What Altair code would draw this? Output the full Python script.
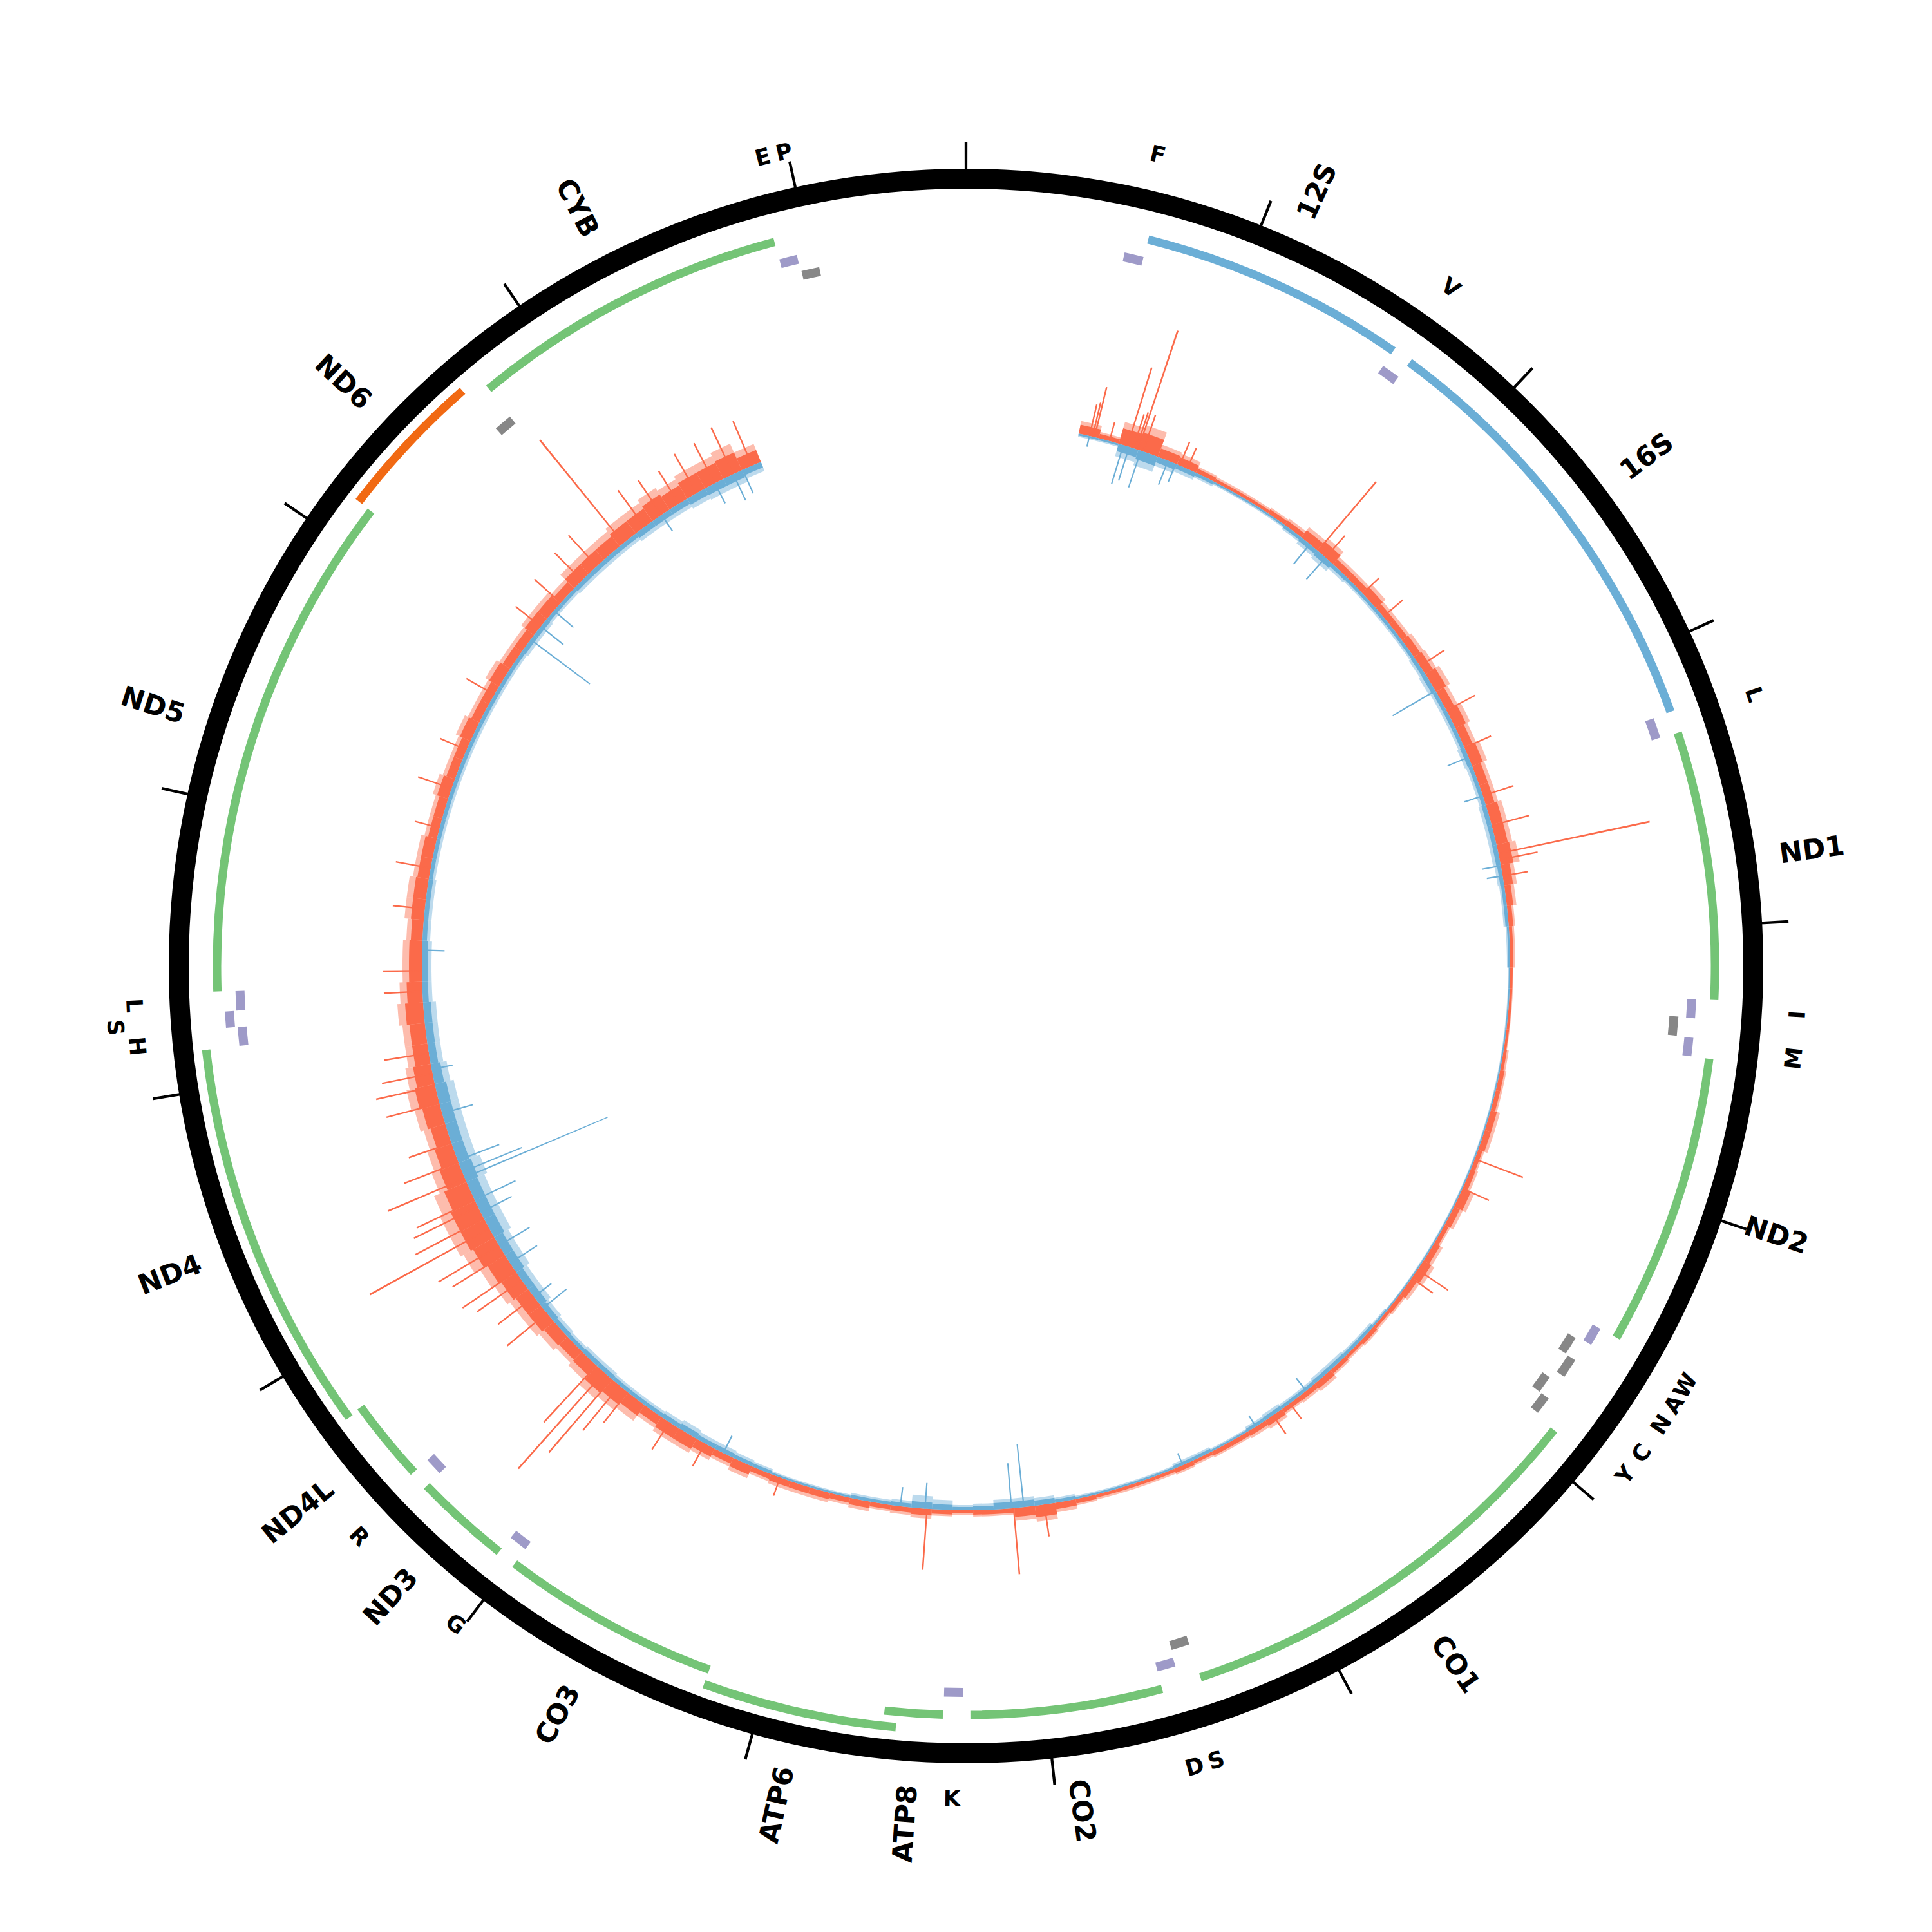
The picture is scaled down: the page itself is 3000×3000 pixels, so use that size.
import math
import altair as alt
import pandas as pd

GENOME = 16569

# ---------------- genes ----------------
gene_names = ["12S", "16S", "ND1", "ND2", "CO1", "CO2", "ATP8", "ATP6", "CO3",
              "ND3", "ND4L", "ND4", "ND5", "ND6", "CYB"]
gene_start = [648, 1671, 3307, 4470, 5904, 7586, 8366, 8527, 9207,
              10059, 10470, 10760, 12337, 14149, 14747]
gene_end = [1601, 3229, 4262, 5511, 7445, 8269, 8572, 9207, 9990,
            10404, 10766, 12137, 14148, 14673, 15887]
gene_kind = ["rRNA", "rRNA", "H", "H", "H", "H", "H", "H", "H",
             "H", "H", "H", "H", "L", "H"]
gene_lane = [0, 0, 0, 0, 0, 0, 0, 1, 0, 0, 0, 1, 0, 1, 0]

# ---------------- tRNAs ----------------
trna_names = ["F", "V", "L1", "I", "Q", "M", "W", "A", "N", "C", "Y", "S1", "D",
              "K", "G", "R", "H", "S2", "L2", "E", "T", "P"]
trna_start = [577, 1602, 3230, 4263, 4329, 4402, 5512, 5587, 5657, 5761, 5826,
              7446, 7518, 8295, 9991, 10405, 12138, 12207, 12266, 14674, 15888, 15956]
trna_end = [647, 1670, 3304, 4331, 4400, 4469, 5579, 5655, 5729, 5826, 5891,
            7514, 7585, 8364, 10058, 10469, 12206, 12265, 12336, 14742, 15953, 16023]
trna_strand = ["H", "H", "H", "H", "L", "H", "H", "L", "L", "L", "L", "L", "H",
               "H", "H", "H", "H", "H", "H", "L", "H", "L"]
trna_lane = [0, 0, 0, 0, 0, 0, 0, 0, 1, 0, 1, 0, 0,
             0, 0, 0, 0, 1, 0, 0, 0, 0]

# tRNA labels as drawn on the chart
tlabel_text = ["F", "V", "L", "I", "M", "W", "A", "N", "C", "Y", "S", "D", "K",
               "G", "R", "H", "S", "L", "E", "P"]
tlabel_pos = [612, 1636, 3267, 4297, 4435, 5535, 5605, 5680, 5790, 5875, 7480, 7551,
              8329, 10024, 10437, 12172, 12236, 12301, 15920, 15989]
tlabel_lane = [0, 0, 0, 0, 0, 0, 0, 0, 0, 0, 0, 0, 0, 0, 0, 0, 1, 0, 0, 0]

tick_pos = [0, 1000, 2000, 3000, 4000, 5000, 6000, 7000, 8000, 9000, 10000,
            11000, 12000, 13000, 14000, 15000, 16000]

# ---------------- histogram (100 bp bins from 550) ----------------
bin_start = [550 + 100 * i for i in range(150)]
# solid core of the dense bars
red_core = [
    14, 7, 25, 28, 14, 12, 7, 5, 5, 5,
    7, 8, 14, 18, 10, 10, 14, 10, 10, 12,
    14, 18, 14, 18, 14, 18, 14, 14, 18, 18,
    20, 14, 10, 7, 5, 5, 4, 4, 4, 4,
    5, 7, 7, 10, 10, 7, 8, 14, 10, 7,
    10, 14, 10, 7, 5, 7, 5, 7, 10, 8,
    7, 10, 8, 7, 7, 5, 7, 5, 5, 5,
    5, 7, 10, 18, 14, 7, 7, 5, 7, 10,
    8, 7, 10, 8, 10, 10, 10, 8, 14, 10,
    14, 18, 18, 14, 20, 24, 28, 20, 18, 20,
    24, 24, 28, 32, 38, 42, 42, 38, 32, 28,
    24, 28, 32, 28, 24, 24, 28, 24, 20, 20,
    18, 20, 20, 18, 18, 14, 14, 18, 14, 14,
    18, 14, 14, 18, 14, 14, 18, 18, 14, 20,
    20, 20, 24, 24, 28, 24, 28, 28, 30, 20,
]
# outer fringe of the dense bars
red_fuzz = [
    20, 10, 35, 40, 20, 18, 10, 8, 8, 8,
    10, 12, 20, 25, 15, 15, 20, 15, 15, 18,
    20, 25, 20, 25, 20, 25, 20, 20, 25, 25,
    30, 20, 15, 10, 8, 8, 5, 5, 5, 5,
    8, 10, 10, 15, 15, 10, 12, 20, 15, 10,
    15, 20, 15, 10, 8, 10, 8, 10, 15, 12,
    10, 15, 12, 10, 10, 8, 10, 8, 8, 8,
    8, 10, 15, 25, 20, 10, 10, 8, 10, 15,
    12, 10, 15, 12, 15, 15, 15, 12, 20, 15,
    20, 25, 25, 20, 30, 35, 40, 30, 25, 30,
    35, 35, 40, 45, 55, 60, 60, 55, 45, 40,
    35, 40, 45, 40, 35, 35, 40, 35, 30, 30,
    25, 30, 30, 25, 25, 20, 20, 25, 20, 20,
    25, 20, 20, 25, 20, 20, 25, 25, 20, 30,
    30, 30, 35, 35, 40, 35, 40, 40, 45, 30,
]
blue_core = [
    3, 3, 12, 15, 9, 7, 5, 3, 3, 3,
    3, 5, 7, 9, 6, 5, 5, 5, 5, 5,
    6, 7, 6, 6, 6, 7, 6, 6, 7, 7,
    7, 6, 5, 5, 3, 3, 2, 2, 2, 2,
    2, 2, 2, 2, 2, 2, 2, 2, 2, 2,
    2, 2, 2, 2, 3, 5, 5, 6, 6, 5,
    5, 6, 5, 3, 3, 5, 5, 3, 3, 3,
    3, 3, 5, 8, 10, 10, 6, 5, 8, 10,
    6, 5, 5, 3, 3, 3, 3, 5, 6, 7,
    7, 9, 7, 6, 6, 6, 7, 7, 6, 7,
    9, 12, 12, 15, 15, 18, 18, 18, 20, 18,
    18, 18, 18, 15, 12, 12, 12, 9, 9, 9,
    7, 7, 7, 6, 6, 6, 6, 6, 6, 6,
    6, 6, 6, 6, 6, 7, 7, 6, 6, 7,
    7, 7, 7, 9, 9, 9, 11, 12, 12, 9,
]
blue_fuzz = [
    5, 5, 20, 25, 15, 12, 8, 5, 5, 5,
    5, 8, 12, 15, 10, 8, 8, 8, 8, 8,
    10, 12, 10, 10, 10, 12, 10, 10, 12, 12,
    12, 10, 8, 8, 5, 5, 3, 3, 3, 3,
    3, 3, 3, 3, 3, 3, 3, 3, 3, 3,
    3, 3, 3, 3, 5, 8, 8, 10, 10, 8,
    8, 10, 8, 5, 5, 8, 8, 5, 5, 5,
    5, 5, 8, 12, 15, 15, 10, 8, 15, 20,
    10, 8, 8, 5, 5, 5, 5, 8, 10, 12,
    12, 15, 12, 10, 10, 10, 12, 12, 10, 12,
    15, 20, 20, 25, 25, 30, 30, 30, 35, 30,
    30, 30, 30, 25, 20, 20, 20, 15, 15, 15,
    12, 12, 12, 10, 10, 10, 10, 10, 10, 10,
    10, 10, 10, 10, 10, 12, 12, 10, 10, 12,
    12, 12, 12, 15, 15, 15, 18, 20, 20, 15,
]

# prominent single bars
red_spike_pos = [600, 615, 625, 700, 790, 820, 835, 845, 870, 1060, 1100, 1850, 1900,
                 2150, 2300, 2600, 2850, 3050, 3300, 3450, 3590, 3620, 3700, 5095,
                 5250, 5700, 5750, 6600, 6700, 7900, 8050, 8470, 9200, 9600, 9800,
                 10050, 10100, 10150, 10200, 10250, 10600, 10700, 10800, 10850, 10950,
                 11000, 11095, 11150, 11215, 11250, 11366, 11450, 11550, 11750, 11837,
                 11900, 12000, 12300, 12400, 12700, 12900, 13100, 13300, 13500, 13800,
                 14200, 14350, 14500, 14600, 14770, 14900, 15000, 15100, 15200, 15300,
                 15400, 15500]
red_spike_val = [50, 55, 80, 30, 128, 55, 60, 195, 60, 40, 35, 140, 45,
                 35, 40, 45, 50, 45, 50, 60, 240, 60, 40, 80,
                 45, 57, 40, 30, 35, 50, 103, 95, 30, 40, 50,
                 60, 90, 150, 200, 120, 80, 70, 85, 100, 95,
                 110, 212, 120, 111, 100, 130, 90, 70, 85, 94,
                 80, 70, 60, 60, 50, 55, 40, 55, 45, 50,
                 50, 55, 60, 65, 206, 70, 65, 60, 70, 70,
                 80, 75]
blue_spike_pos = [600, 770, 800, 860, 1000, 1040, 1800, 1900, 2740, 3100, 3300, 3650,
                  3700, 6500, 6800, 7200, 8000, 8060, 8480, 8600, 9500, 10630, 10700,
                  10900, 11000, 11185, 11250, 11370, 11400, 11460, 11700, 11920, 12500,
                  14120, 14200, 14300, 15000, 15300, 15400, 15450]
blue_spike_val = [17, 63, 55, 60, 40, 30, 40, 45, 77, 35, 30, 30,
                  25, 25, 20, 20, 98, 70, 40, 30, 30, 47, 34,
                  50, 55, 54, 70, 241, 100, 69, 50, 33, 35,
                  115, 45, 40, 30, 35, 45, 40]

# ---------------- styles ----------------
kind_color = {"rRNA": "#6baed6", "H": "#74c476", "L": "#f16913"}
trna_color = {"H": "#9e9ac8", "L": "#878787"}
RED = "#fb6a4a"
BLUE = "#6baed6"
FONT = "DejaVu Sans"

genes = pd.DataFrame({"name": gene_names, "start": gene_start, "end": gene_end,
                      "kind": gene_kind, "lane": gene_lane})
genes["color"] = genes["kind"].map(kind_color)
genes["mid"] = (genes["start"] + genes["end"]) / 2

trnas = pd.DataFrame({"name": trna_names, "start": trna_start, "end": trna_end,
                      "strand": trna_strand, "lane": trna_lane})
trnas["color"] = trnas["strand"].map(trna_color)

tlabels = pd.DataFrame({"name": tlabel_text, "pos": tlabel_pos, "lane": tlabel_lane})
ticks = pd.DataFrame({"pos": tick_pos})
ring = pd.DataFrame({"start": [0], "end": [GENOME]})

red_core_df = pd.DataFrame({"start": bin_start, "v": red_core})
red_fuzz_df = pd.DataFrame({"start": bin_start, "v": red_fuzz})
blue_core_df = pd.DataFrame({"start": bin_start, "v": blue_core})
blue_fuzz_df = pd.DataFrame({"start": bin_start, "v": blue_fuzz})
red_sp = pd.DataFrame({"start": red_spike_pos, "v": red_spike_val})
blue_sp = pd.DataFrame({"start": blue_spike_pos, "v": blue_spike_val})

theta_scale = alt.Scale(domain=[0, GENOME], range=[0, 2 * math.pi])
red_r = alt.Scale(type="linear", domain=[0, 250], range=[845, 1095], zero=False)
blue_r = alt.Scale(type="linear", domain=[0, 250], range=[845, 595], zero=False)


def theta(field="start"):
    return alt.Theta(f"{field}:Q", scale=theta_scale, stack=False)


def arcs(df, outer, inner, color=None):
    enc = dict(theta=theta("start"), theta2="end")
    if color is None:
        enc["color"] = alt.Color("color:N", scale=None)
        mk = alt.Chart(df).mark_arc(radius=outer, radius2=inner)
    else:
        mk = alt.Chart(df).mark_arc(radius=outer, radius2=inner, color=color)
    return mk.encode(**enc)


ring_layer = arcs(ring, 1238, 1207, "black")

tick_layer = alt.Chart(ticks).transform_calculate(
    a="datum.pos - 4.5", b="datum.pos + 4.5"
).mark_arc(radius=1279, radius2=1236, color="black").encode(
    theta=theta("a"), theta2="b")

gene_main = arcs(genes[genes.lane == 0], 1169.5, 1156.5)
gene_outer = arcs(genes[genes.lane == 1], 1193.5, 1180.5)
trna_h0 = arcs(trnas[(trnas.strand == "H") & (trnas.lane == 0)], 1135, 1121)
trna_h1 = arcs(trnas[(trnas.strand == "H") & (trnas.lane == 1)], 1153, 1139)
trna_l0 = arcs(trnas[(trnas.strand == "L") & (trnas.lane == 0)], 1109, 1095)
trna_l1 = arcs(trnas[(trnas.strand == "L") & (trnas.lane == 1)], 1127, 1113)


def hist(df, scale, color, width, opacity=1.0):
    return alt.Chart(df).transform_calculate(
        end=f"datum.start + {width}", z="0"
    ).mark_arc(color=color, opacity=opacity).encode(
        theta=theta("start"), theta2="end",
        radius=alt.Radius("v:Q", scale=scale),
        radius2="z:Q",
    )


hist_layers = [
    hist(red_fuzz_df, red_r, RED, 100, 0.45),
    hist(blue_fuzz_df, blue_r, BLUE, 100, 0.45),
    hist(red_core_df, red_r, RED, 100),
    hist(blue_core_df, blue_r, BLUE, 100),
    hist(red_sp, red_r, RED, 7),
    hist(blue_sp, blue_r, BLUE, 7),
]

gene_lab = alt.Chart(genes).transform_calculate(
    deg=f"datum.mid / {GENOME} * 360"
).transform_calculate(
    rot="datum.deg < 180 ? (datum.deg + 270) % 360 : (datum.deg + 90) % 360"
)
gene_lab_r = gene_lab.transform_filter("datum.deg < 180").mark_text(
    align="left", baseline="middle", font=FONT, fontWeight="bold", fontSize=43, color="black"
).encode(theta=theta("mid"), radius=alt.value(1275), angle=alt.Angle("rot:Q", scale=None),
         text="name:N")
gene_lab_l = gene_lab.transform_filter("datum.deg >= 180").mark_text(
    align="right", baseline="middle", font=FONT, fontWeight="bold", fontSize=43, color="black"
).encode(theta=theta("mid"), radius=alt.value(1275), angle=alt.Angle("rot:Q", scale=None),
         text="name:N")

tl = alt.Chart(tlabels).transform_calculate(
    deg=f"datum.pos / {GENOME} * 360"
).transform_calculate(
    rot="(datum.deg > 90 && datum.deg < 270) ? (datum.deg + 180) % 360 : datum.deg % 360"
)
tl0 = tl.transform_filter("datum.lane == 0").mark_text(
    align="center", baseline="middle", font=FONT, fontWeight="bold", fontSize=35, color="black"
).encode(theta=theta("pos"), radius=alt.value(1294), angle=alt.Angle("rot:Q", scale=None),
         text="name:N")
tl1 = tl.transform_filter("datum.lane == 1").mark_text(
    align="center", baseline="middle", font=FONT, fontWeight="bold", fontSize=35, color="black"
).encode(theta=theta("pos"), radius=alt.value(1325), angle=alt.Angle("rot:Q", scale=None),
         text="name:N")

chart = alt.layer(
    ring_layer, tick_layer, gene_main, gene_outer, trna_h0, trna_h1, trna_l0, trna_l1,
    *hist_layers, gene_lab_r, gene_lab_l, tl0, tl1
).resolve_scale(radius="independent").properties(
    width=2984, height=2984, padding=0, autosize="none"
).configure_view(stroke=None)

chart.save("out.html", embed_options={"renderer": "svg", "actions": False})
